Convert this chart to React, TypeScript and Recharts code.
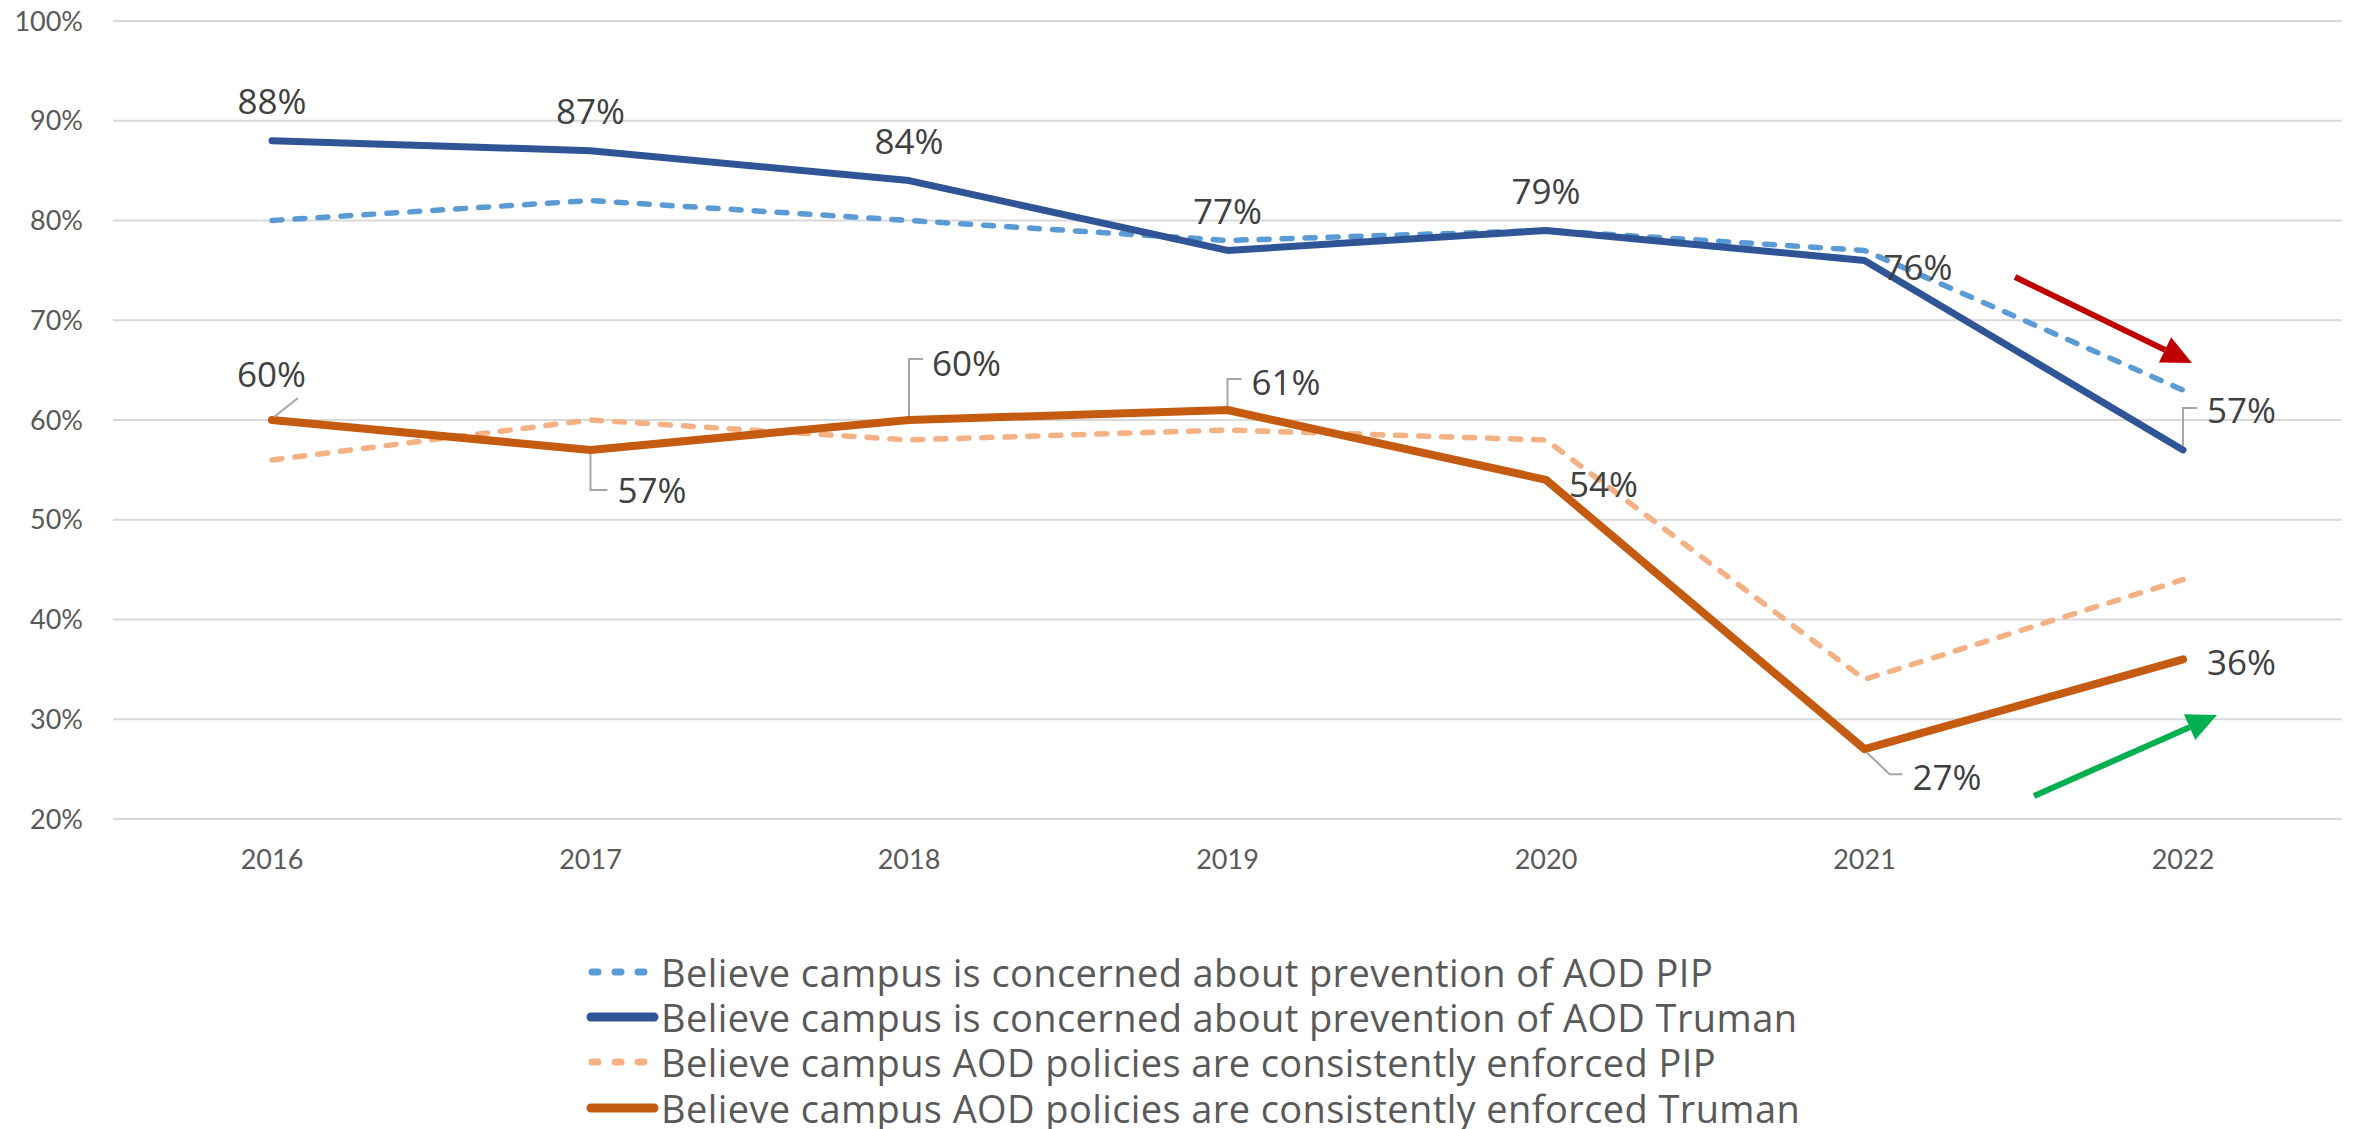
import { LineChart, Line, XAxis, YAxis, CartesianGrid, LabelList, Legend } from 'recharts';

const years = ['2016', '2017', '2018', '2019', '2020', '2021', '2022'];
const pipConcern = [80, 82, 80, 78, 79, 77, 63];
const trumanConcern = [88, 87, 84, 77, 79, 76, 57];
const pipEnforced = [56, 60, 58, 59, 58, 34, 44];
const trumanEnforced = [60, 57, 60, 61, 54, 27, 36];
const yTicks = [20, 30, 40, 50, 60, 70, 80, 90, 100];

const seriesNames = [
  'Believe campus is concerned about prevention of AOD PIP',
  'Believe campus is concerned about prevention of AOD Truman',
  'Believe campus AOD policies are consistently enforced PIP',
  'Believe campus AOD policies are consistently enforced Truman',
];

const data = years.map((year, i) => ({
  year,
  pipConcern: pipConcern[i],
  trumanConcern: trumanConcern[i],
  pipEnforced: pipEnforced[i],
  trumanEnforced: trumanEnforced[i],
}));

const series = [
  { key: 'pipConcern', name: seriesNames[0], color: '#5B9BD5', width: 5.5, dash: '10 13' },
  { key: 'trumanConcern', name: seriesNames[1], color: '#2F5597', width: 7, dash: undefined },
  { key: 'pipEnforced', name: seriesNames[2], color: '#F4B183', width: 5.5, dash: '10 13' },
  { key: 'trumanEnforced', name: seriesNames[3], color: '#C55A11', width: 8, dash: undefined },
];

// label placement relative to the point: text anchor, offsets, optional leader line
type Place = { dx: number; dy: number; anchor: 'middle' | 'start'; leader?: number[][] };

const above: Place = { dx: 0, dy: -40, anchor: 'middle' };
const concernPlaces: Place[] = [
  above, above, above, above, above,
  { dx: 19, dy: 6, anchor: 'start' },
  { dx: 24, dy: -40, anchor: 'start', leader: [[0, -4], [0, -42], [14, -42]] },
];
const enforcedPlaces: Place[] = [
  { dx: -35, dy: -47, anchor: 'start', leader: [[2, -3], [26, -22]] },
  { dx: 27, dy: 40, anchor: 'start', leader: [[0, 4], [0, 40], [17, 40]] },
  { dx: 23, dy: -58, anchor: 'start', leader: [[0, -4], [0, -61], [14, -61]] },
  { dx: 24, dy: -29, anchor: 'start', leader: [[0, -4], [0, -31], [14, -31]] },
  { dx: 23, dy: 4, anchor: 'start' },
  { dx: 48, dy: 27, anchor: 'start', leader: [[2, 3], [25, 25], [38, 25]] },
  { dx: 24, dy: 2, anchor: 'start' },
];

const makeLabel = (places: Place[]) => (props: any) => {
  const { x, y, value, index } = props;
  const p = places[index];
  if (!p) return null;
  return (
    <g key={`lbl-${index}`}>
      {p.leader && (
        <polyline
          points={p.leader.map(([a, b]) => `${x + a},${y + b}`).join(' ')}
          fill="none"
          stroke="#A6A6A6"
          strokeWidth={2}
        />
      )}
      <text
        x={x + p.dx}
        y={y + p.dy}
        textAnchor={p.anchor}
        dominantBaseline="central"
        fontFamily="'Open Sans', sans-serif"
        fontSize={35}
        fill="#404040"
      >
        {value}%
      </text>
    </g>
  );
};

const Arrow = ({ x1, y1, x2, y2, color }: { x1: number; y1: number; x2: number; y2: number; color: string }) => {
  const len = Math.hypot(x2 - x1, y2 - y1);
  const ux = (x2 - x1) / len;
  const uy = (y2 - y1) / len;
  const bx = x2 - ux * 30;
  const by = y2 - uy * 30;
  const hw = 14;
  return (
    <g>
      <line x1={x1} y1={y1} x2={bx} y2={by} stroke={color} strokeWidth={6} />
      <polygon
        points={`${x2},${y2} ${bx - uy * hw},${by + ux * hw} ${bx + uy * hw},${by - ux * hw}`}
        fill={color}
      />
    </g>
  );
};

const renderLegend = () => (
  <div>
    {series.map((s) => (
      <div key={s.key} style={{ display: 'flex', alignItems: 'center', height: 45.3 }}>
        <svg width={75} height={20} style={{ flexShrink: 0 }}>
          <line
            x1={s.dash ? 6 : 5}
            y1={10}
            x2={s.dash ? 66 : 68}
            y2={10}
            stroke={s.color}
            strokeWidth={s.dash ? 7 : 9}
            strokeDasharray={s.dash ? '6 17' : undefined}
            strokeLinecap="round"
          />
        </svg>
        <span
          style={{
            fontFamily: "'Open Sans', sans-serif",
            fontSize: 38,
            letterSpacing: 0.4,
            color: '#595959',
            whiteSpace: 'nowrap',
            lineHeight: 1,
          }}
        >
          {s.name}
        </span>
      </div>
    ))}
  </div>
);

export default function App() {
  return (
    <div style={{ position: 'absolute', left: 0, top: 0, width: 2356, height: 1129, background: '#fff' }}>
      <LineChart width={2356} height={1129} data={data} margin={{ top: 21, right: 14, left: 0, bottom: 250 }}>
        <CartesianGrid vertical={false} stroke="#D9D9D9" strokeWidth={2} />
        <XAxis
          dataKey="year"
          height={60}
          axisLine={false}
          tickLine={false}
          tickSize={0}
          tickMargin={31}
          padding={{ left: 159, right: 159 }}
          tick={{ fontFamily: 'Lato, sans-serif', fontSize: 27, fill: '#595959' }}
        />
        <YAxis
          width={113}
          domain={[20, 100]}
          ticks={yTicks}
          axisLine={false}
          tickLine={false}
          tickSize={0}
          tickMargin={30}
          tickFormatter={(v: number) => `${v}%`}
          tick={{ fontFamily: 'Lato, sans-serif', fontSize: 27, fill: '#595959' }}
        />
        <Legend
          layout="vertical"
          align="center"
          verticalAlign="middle"
          wrapperStyle={{ left: 586, top: 949, width: 1400 }}
          content={renderLegend}
        />
        {series.map((s) => (
          <Line
            key={s.key}
            type="linear"
            dataKey={s.key}
            name={s.name}
            stroke={s.color}
            strokeWidth={s.width}
            strokeDasharray={s.dash}
            strokeLinecap="round"
            strokeLinejoin="round"
            dot={false}
            activeDot={false}
            isAnimationActive={false}
          >
            {s.key === 'trumanConcern' && <LabelList dataKey={s.key} content={makeLabel(concernPlaces)} />}
            {s.key === 'trumanEnforced' && <LabelList dataKey={s.key} content={makeLabel(enforcedPlaces)} />}
          </Line>
        ))}
      </LineChart>
      <svg width={2356} height={1129} style={{ position: 'absolute', left: 0, top: 0, pointerEvents: 'none' }}>
        <Arrow x1={2015} y1={277} x2={2192} y2={363} color="#C00000" />
        <Arrow x1={2034} y1={796} x2={2217} y2={715} color="#00B050" />
      </svg>
    </div>
  );
}
